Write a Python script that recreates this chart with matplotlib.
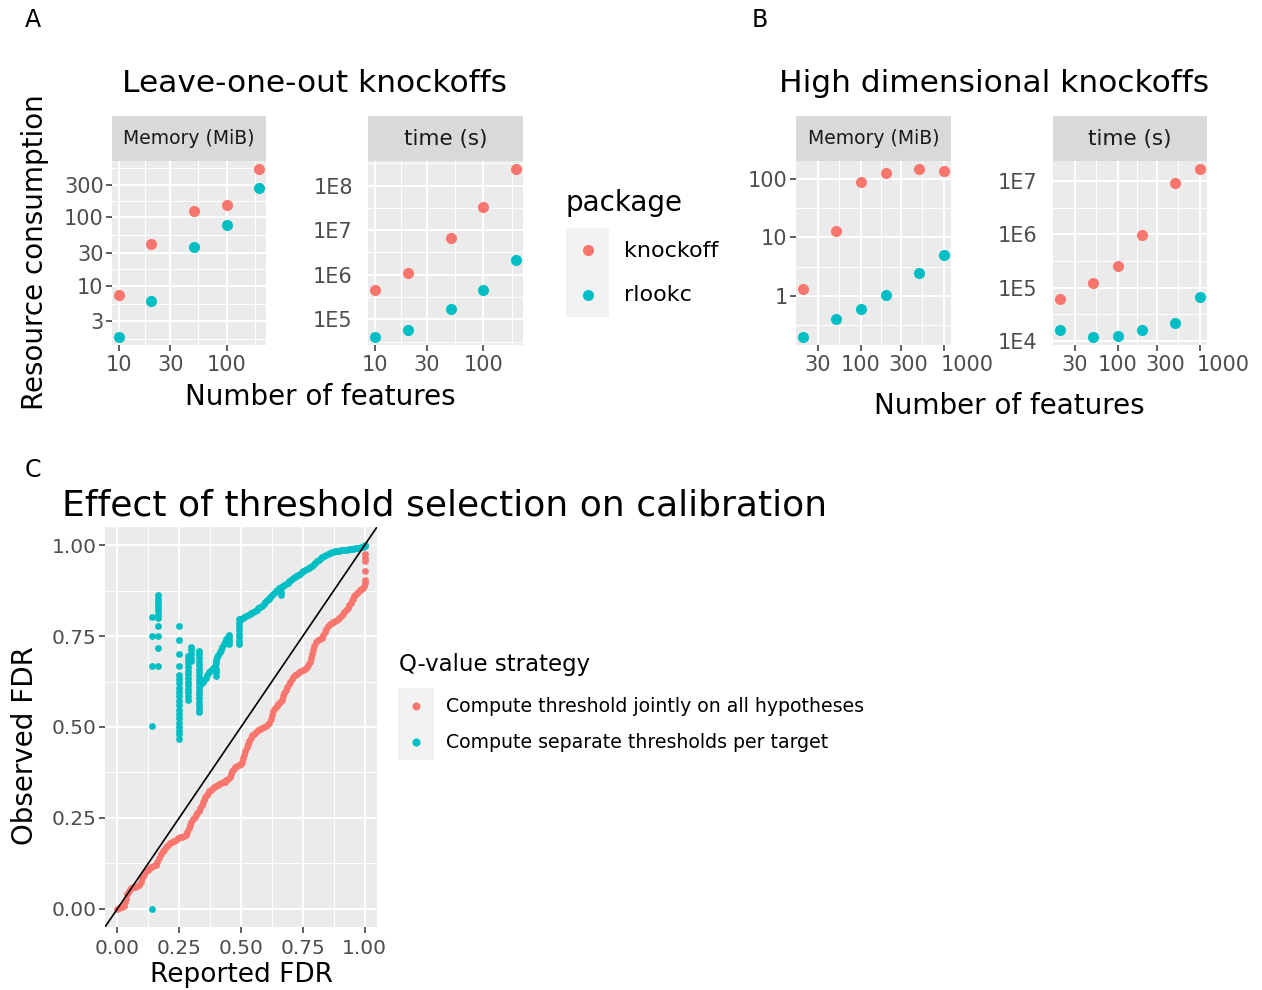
import numpy as np
import matplotlib.pyplot as plt
from matplotlib.ticker import NullFormatter
from matplotlib.transforms import ScaledTranslation

plt.rcParams['font.family'] = ['DejaVu Sans']

W, H = 1262, 990
RED = '#F8766D'
CYAN = '#00BFC4'
TICK_COL = '#4D4D4D'

# ---- panel A: leave-one-out knockoffs
loo_features = [10, 20, 50, 100, 200]
loo_mem_knockoff = [7.2, 41, 125, 150, 500]
loo_mem_rlookc = [1.8, 5.9, 37, 76, 270]
loo_time_knockoff = [4.5e5, 1.1e6, 6.6e6, 3.3e7, 2.3e8]
loo_time_rlookc = [4.1e4, 5.9e4, 1.7e5, 4.5e5, 2.1e6]

# ---- panel B: high dimensional knockoffs
hd_features = [20, 50, 100, 200, 500, 1000]
hd_mem_knockoff = [1.3, 13, 89, 126, 146, 135]
hd_mem_rlookc = [0.2, 0.4, 0.59, 1.03, 2.5, 4.9]
hd_time_knockoff = [6.2e4, 1.24e5, 2.55e5, 9.6e5, 9.3e6, 1.66e7]
hd_time_rlookc = [1.6e4, 1.2e4, 1.26e4, 1.6e4, 2.2e4, 6.7e4]

packages = ['knockoff', 'rlookc']

# ---- panel C: calibration
joint_reported = [
    0.000, 0.005, 0.012, 0.020, 0.027, 0.032, 0.036, 0.040, 0.046, 0.054,
    0.062, 0.070, 0.078, 0.088, 0.095, 0.101, 0.108, 0.115, 0.122, 0.130,
    0.138, 0.146, 0.155, 0.162, 0.169, 0.176, 0.183, 0.190, 0.198, 0.206,
    0.214, 0.222, 0.230, 0.238, 0.246, 0.254, 0.262, 0.270, 0.277, 0.283,
    0.288, 0.293, 0.298, 0.305, 0.312, 0.318, 0.324, 0.330, 0.336, 0.341,
    0.346, 0.351, 0.356, 0.361, 0.366, 0.372, 0.378, 0.385, 0.392, 0.399,
    0.406, 0.413, 0.420, 0.427, 0.434, 0.441, 0.448, 0.454, 0.459, 0.464,
    0.470, 0.477, 0.484, 0.492, 0.500, 0.506, 0.510, 0.514, 0.518, 0.523,
    0.528, 0.534, 0.540, 0.546, 0.553, 0.561, 0.569, 0.577, 0.585, 0.593,
    0.601, 0.609, 0.615, 0.620, 0.625, 0.631, 0.637, 0.644, 0.651, 0.658,
    0.665, 0.670, 0.675, 0.681, 0.687, 0.694, 0.700, 0.706, 0.712, 0.719,
    0.726, 0.734, 0.742, 0.750, 0.758, 0.765, 0.772, 0.778, 0.782, 0.786,
    0.790, 0.795, 0.802, 0.810, 0.818, 0.826, 0.833, 0.838, 0.844, 0.851,
    0.858, 0.866, 0.874, 0.882, 0.890, 0.897, 0.904, 0.911, 0.918, 0.925,
    0.932, 0.938, 0.943, 0.948, 0.953, 0.958, 0.963, 0.968, 0.974, 0.980,
    0.986, 0.992, 0.997, 1.000, 1.000, 1.000, 1.000, 1.000, 1.000,
]
joint_observed = [
    0.000, 0.003, 0.004, 0.004, 0.008, 0.018, 0.028, 0.040, 0.048, 0.056,
    0.060, 0.061, 0.062, 0.066, 0.075, 0.084, 0.094, 0.103, 0.108, 0.111,
    0.115, 0.118, 0.121, 0.130, 0.140, 0.150, 0.158, 0.163, 0.170, 0.176,
    0.180, 0.184, 0.187, 0.190, 0.194, 0.197, 0.198, 0.200, 0.204, 0.212,
    0.221, 0.230, 0.240, 0.248, 0.253, 0.258, 0.263, 0.270, 0.277, 0.285,
    0.293, 0.300, 0.307, 0.313, 0.319, 0.324, 0.328, 0.332, 0.336, 0.339,
    0.341, 0.343, 0.345, 0.348, 0.350, 0.353, 0.357, 0.362, 0.370, 0.378,
    0.385, 0.389, 0.393, 0.396, 0.398, 0.405, 0.414, 0.424, 0.434, 0.444,
    0.453, 0.462, 0.470, 0.477, 0.482, 0.487, 0.491, 0.494, 0.497, 0.500,
    0.503, 0.507, 0.512, 0.523, 0.533, 0.543, 0.552, 0.558, 0.564, 0.569,
    0.575, 0.584, 0.594, 0.603, 0.611, 0.618, 0.625, 0.632, 0.638, 0.643,
    0.647, 0.650, 0.653, 0.656, 0.660, 0.665, 0.671, 0.680, 0.690, 0.700,
    0.712, 0.724, 0.733, 0.739, 0.742, 0.745, 0.752, 0.761, 0.770, 0.777,
    0.782, 0.786, 0.789, 0.792, 0.795, 0.800, 0.806, 0.812, 0.817, 0.822,
    0.828, 0.835, 0.842, 0.848, 0.853, 0.859, 0.864, 0.868, 0.872, 0.876,
    0.879, 0.883, 0.888, 0.897, 0.905, 0.929, 0.957, 0.966, 0.975,
]

separate_reported = [
    0.142, 0.142, 0.142, 0.142, 0.142,
    0.165, 0.165, 0.165, 0.165, 0.165, 0.165, 0.165, 0.165, 0.165, 0.165, 0.165, 0.165,
    0.250, 0.250, 0.250, 0.250, 0.250, 0.250, 0.250, 0.250, 0.250, 0.250,
    0.250, 0.250, 0.250, 0.250, 0.250, 0.250, 0.250, 0.250, 0.250, 0.250,
    0.284, 0.284, 0.284, 0.284, 0.284, 0.284, 0.284, 0.284, 0.284, 0.284,
    0.284, 0.284, 0.284, 0.297, 0.297, 0.297, 0.297, 0.297,
    0.331, 0.331, 0.331, 0.331, 0.331, 0.331, 0.331, 0.331, 0.331, 0.331,
    0.331, 0.331, 0.331, 0.331, 0.331, 0.331, 0.331, 0.331,
    0.335, 0.340, 0.346, 0.352, 0.358, 0.364, 0.370, 0.376, 0.382, 0.388,
    0.394, 0.398, 0.398, 0.398, 0.398, 0.398, 0.403, 0.409, 0.414, 0.419,
    0.425, 0.430, 0.436, 0.441, 0.446, 0.450, 0.450, 0.450, 0.450,
    0.493, 0.493, 0.493, 0.493, 0.493, 0.493, 0.493, 0.493,
    0.500, 0.507, 0.514, 0.521, 0.528, 0.535, 0.542, 0.549, 0.556, 0.563,
    0.570, 0.577, 0.584, 0.591, 0.598, 0.605, 0.612, 0.619, 0.626, 0.633,
    0.640, 0.647, 0.654, 0.660, 0.662, 0.661, 0.668, 0.675, 0.682, 0.689,
    0.696, 0.703, 0.710, 0.717, 0.724, 0.731, 0.738, 0.745, 0.752, 0.759,
    0.766, 0.773, 0.780, 0.787, 0.794, 0.801, 0.808, 0.815, 0.822, 0.829,
    0.836, 0.843, 0.850, 0.858, 0.866, 0.874, 0.882, 0.890, 0.898, 0.906,
    0.914, 0.922, 0.930, 0.938, 0.946, 0.954, 0.962, 0.970, 0.978, 0.986,
    0.994, 1.000, 1.000,
]
separate_observed = [
    0.000, 0.502, 0.668, 0.750, 0.802,
    0.862, 0.853, 0.845, 0.836, 0.827, 0.818, 0.809, 0.800, 0.778, 0.750, 0.716, 0.668,
    0.779, 0.739, 0.702, 0.669, 0.644, 0.632, 0.620, 0.608, 0.596, 0.584,
    0.572, 0.560, 0.548, 0.536, 0.524, 0.512, 0.500, 0.490, 0.480, 0.468,
    0.575, 0.585, 0.595, 0.605, 0.615, 0.625, 0.635, 0.645, 0.655, 0.665,
    0.675, 0.685, 0.694, 0.721, 0.711, 0.701, 0.691, 0.681,
    0.710, 0.700, 0.690, 0.680, 0.670, 0.660, 0.650, 0.640, 0.630, 0.620,
    0.610, 0.600, 0.590, 0.580, 0.570, 0.560, 0.550, 0.540,
    0.615, 0.620, 0.624, 0.628, 0.634, 0.642, 0.650, 0.655, 0.658, 0.662,
    0.668, 0.640, 0.650, 0.660, 0.675, 0.685, 0.692, 0.699, 0.706, 0.713,
    0.720, 0.727, 0.735, 0.742, 0.748, 0.754, 0.745, 0.737, 0.729,
    0.727, 0.737, 0.747, 0.757, 0.767, 0.777, 0.787, 0.797,
    0.797, 0.799, 0.802, 0.805, 0.808, 0.811, 0.814, 0.817, 0.820, 0.823,
    0.826, 0.829, 0.833, 0.838, 0.843, 0.848, 0.853, 0.858, 0.864, 0.869,
    0.873, 0.878, 0.882, 0.870, 0.862, 0.885, 0.888, 0.891, 0.894, 0.897,
    0.901, 0.905, 0.909, 0.912, 0.916, 0.919, 0.922, 0.925, 0.928, 0.931,
    0.934, 0.937, 0.940, 0.944, 0.948, 0.952, 0.956, 0.960, 0.964, 0.967,
    0.970, 0.973, 0.976, 0.978, 0.980, 0.982, 0.983, 0.984, 0.985, 0.986,
    0.987, 0.988, 0.988, 0.989, 0.990, 0.990, 0.991, 0.992, 0.993, 0.994,
    0.996, 0.998, 1.000,
]
strategies = ['Compute threshold jointly on all hypotheses',
              'Compute separate thresholds per target']

fig = plt.figure(figsize=(W / 100, H / 100), dpi=100)


def px_axes(l, t, r, b):
    return fig.add_axes([l / W, 1 - b / H, (r - l) / W, (b - t) / H])


def ftext(x, y, s, **kw):
    fig.text(x / W, 1 - y / H, s, **kw)


def loglim(vals):
    lo, hi = np.log10(min(vals)), np.log10(max(vals))
    pad = (hi - lo) * 0.05
    return 10 ** (lo - pad), 10 ** (hi + pad)


def minor_breaks(breaks):
    lb = np.log10(breaks)
    lb = np.concatenate([[2 * lb[0] - lb[1]], lb, [2 * lb[-1] - lb[-2]]])
    return 10 ** ((lb[:-1] + lb[1:]) / 2)


def gg_panel(ax):
    ax.set_facecolor('#EBEBEB')
    for sp in ax.spines.values():
        sp.set_visible(False)
    ax.grid(which='major', color='white', lw=1.5)
    ax.grid(which='minor', color='white', lw=0.75)
    ax.set_axisbelow(True)
    ax.tick_params(which='minor', length=0)
    ax.tick_params(which='major', color='#333333', labelcolor=TICK_COL,
                   labelsize=15, length=4, width=1.1, pad=2)


def log_panel(ax, x, ys, xb, xl, yb, yl, yticks=True, xshift=None):
    ax.set_xscale('log')
    ax.set_yscale('log')
    for y, c in zip(ys, [RED, CYAN]):
        ax.scatter(x, y, s=64, color=c, linewidths=0, zorder=3)
    ax.set_xticks(xb, xl)
    ax.set_yticks(yb, yl)
    ax.set_xticks(minor_breaks(xb), minor=True)
    ax.set_yticks(minor_breaks(yb), minor=True)
    ax.xaxis.set_minor_formatter(NullFormatter())
    ax.yaxis.set_minor_formatter(NullFormatter())
    # limits last: set_xticks would otherwise widen them
    ax.set_xlim(loglim(x))
    ax.set_ylim(loglim(ys[0] + ys[1]))
    gg_panel(ax)
    ax.tick_params(axis='x', which='major', pad=3)
    if not yticks:
        ax.tick_params(axis='y', which='major', length=0, pad=11)
    if xshift:
        # the reference spreads the crowded labels a little to the right
        for lbl, dx in zip(ax.get_xticklabels(), xshift):
            lbl.set_transform(lbl.get_transform()
                              + ScaledTranslation(dx / 100, 0, fig.dpi_scale_trans))


def strip(l, r, label, size):
    s = px_axes(l, 116, r, 161)
    s.set_facecolor('#D9D9D9')
    s.set_xticks([])
    s.set_yticks([])
    for sp in s.spines.values():
        sp.set_visible(False)
    s.text(0.5, 0.5, label, ha='center', va='center', fontsize=size,
           color='#1A1A1A', transform=s.transAxes)


# ---- A
ax = px_axes(112, 161, 266, 345)
log_panel(ax, loo_features, [loo_mem_knockoff, loo_mem_rlookc],
          [10, 30, 100], ['10', '30', '100'],
          [3, 10, 30, 100, 300], ['3', '10', '30', '100', '300'])
strip(112, 266, 'Memory (MiB)', 13.5)

ax = px_axes(368, 161, 523, 345)
log_panel(ax, loo_features, [loo_time_knockoff, loo_time_rlookc],
          [10, 30, 100], ['10', '30', '100'],
          [1e5, 1e6, 1e7, 1e8], ['1E5', '1E6', '1E7', '1E8'], yticks=False)
strip(368, 523, 'time (s)', 15.5)

# ---- B
hd_shift = [0, 0, 8, 23]
ax = px_axes(796, 161, 951, 345)
log_panel(ax, hd_features, [hd_mem_knockoff, hd_mem_rlookc],
          [30, 100, 300, 1000], ['30', '100', '300', '1000'],
          [1, 10, 100], ['1', '10', '100'], xshift=hd_shift)
strip(796, 951, 'Memory (MiB)', 13.5)

ax = px_axes(1053, 161, 1207, 345)
log_panel(ax, hd_features, [hd_time_knockoff, hd_time_rlookc],
          [30, 100, 300, 1000], ['30', '100', '300', '1000'],
          [1e4, 1e5, 1e6, 1e7], ['1E4', '1E5', '1E6', '1E7'], yticks=False,
          xshift=hd_shift)
strip(1053, 1207, 'time (s)', 15.5)

# titles / labels
ftext(33, 20, 'A', fontsize=17, ha='center', va='center')
ftext(760, 20, 'B', fontsize=17, ha='center', va='center')
ftext(33, 470, 'C', fontsize=17, ha='center', va='center')
ftext(314, 84, 'Leave-one-out knockoffs', fontsize=22.5, ha='center', va='center')
ftext(994, 84, 'High dimensional knockoffs', fontsize=22.5, ha='center', va='center')
ftext(320, 397, 'Number of features', fontsize=20, ha='center', va='center')
ftext(1009, 406, 'Number of features', fontsize=20, ha='center', va='center')
ftext(35, 252, 'Resource consumption', fontsize=20, ha='center', va='center',
      rotation=90)

# legend A
ftext(566, 203, 'package', fontsize=20, ha='left', va='center')
key = px_axes(566, 228, 609, 317)
key.set_facecolor('#F2F2F2')
key.set_xlim(0, 1)
key.set_ylim(0, 1)
key.set_xticks([])
key.set_yticks([])
for sp in key.spines.values():
    sp.set_visible(False)
for i, (name, c) in enumerate(zip(packages, [RED, CYAN])):
    key.scatter([0.5], [0.75 - 0.5 * i], s=64, color=c, linewidths=0)
    ftext(624, 251 + 44 * i, name, fontsize=16, ha='left', va='center')

# ---- C
ax = px_axes(105, 527, 377, 927)
ax.scatter(joint_reported, joint_observed, s=24, color=RED, linewidths=0, zorder=3)
ax.scatter(separate_reported, separate_observed, s=24, color=CYAN, linewidths=0, zorder=3)
ax.axline((0, 0), slope=1, color='black', lw=1.2, zorder=4)
brk = [0, 0.25, 0.5, 0.75, 1.0]
lab = ['0.00', '0.25', '0.50', '0.75', '1.00']
ax.set_xticks(brk, lab)
ax.set_yticks(brk, lab)
ax.set_xticks([0.125, 0.375, 0.625, 0.875], minor=True)
ax.set_yticks([0.125, 0.375, 0.625, 0.875], minor=True)
ax.set_xlim(-0.05, 1.05)
ax.set_ylim(-0.05, 1.05)
gg_panel(ax)
ax.tick_params(labelsize=14.5)
ax.tick_params(axis='x', pad=5)
ftext(242, 975, 'Reported FDR', fontsize=19, ha='center', va='center')
ftext(25, 746, 'Observed FDR', fontsize=20, ha='center', va='center', rotation=90)
ftext(62, 505, 'Effect of threshold selection on calibration', fontsize=26,
      ha='left', va='center')

# legend C
ftext(399, 665, 'Q-value strategy', fontsize=16.5, ha='left', va='center')
key = px_axes(398, 688, 434, 760)
key.set_facecolor('#F2F2F2')
key.set_xlim(0, 1)
key.set_ylim(0, 1)
key.set_xticks([])
key.set_yticks([])
for sp in key.spines.values():
    sp.set_visible(False)
for i, (name, c) in enumerate(zip(strategies, [RED, CYAN])):
    key.scatter([0.5], [0.75 - 0.5 * i], s=34, color=c, linewidths=0)
    ftext(446, 706 + 37 * i, name, fontsize=13.6, ha='left', va='center')

fig.savefig('out.png', dpi=100)
